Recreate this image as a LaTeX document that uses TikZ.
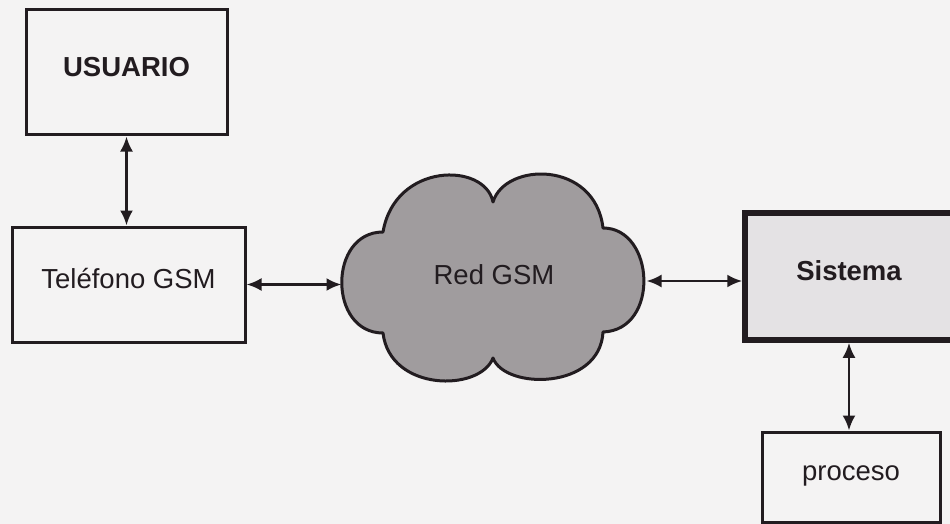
\documentclass[tikz,border=0pt]{standalone}
\usepackage{fontspec}
\setmainfont{Liberation Sans}
\usetikzlibrary{arrows.meta}
\definecolor{ink}{RGB}{34,28,32}
\definecolor{paper}{RGB}{244,243,243}
\definecolor{cloudgray}{RGB}{160,156,158}
\definecolor{sysfill}{RGB}{228,226,228}
\begin{document}
\begin{tikzpicture}[x=1pt,y=-1pt,
  box/.style={draw=ink, line width=3pt, rectangle, inner sep=0pt,
    text height=0.716em, text depth=0pt, text=ink,
    font=\fontsize{27.5}{33}\selectfont},
  link/.style={draw=ink, line width=2.6pt,
    {Latex[length=15pt,width=13pt]}-{Latex[length=15pt,width=13pt]}}]
\fill[paper] (0,0) rectangle (950,524);
\useasboundingbox (0,0) rectangle (950,524);

% cloud shape
\filldraw[fill=cloudgray, draw=ink, line width=3pt, line join=round]
  (493,202) .. controls (505,162) and (595,160) .. (603,228)
  .. controls (655,228) and (660,330) .. (603,332)
  .. controls (600,390) and (505,390) .. (493,358)
  .. controls (480,392) and (390,392) .. (383,333)
  .. controls (328,333) and (328,232) .. (383,232)
  .. controls (395,162) and (485,162) .. (493,202) -- cycle;

\node[box, draw=none, minimum width=302pt, minimum height=204pt] (cloud) at (494,281) {Red GSM};

\node[box, minimum width=201pt, minimum height=125pt] (usuario) at (126.5,72.5) {\bfseries USUARIO};
\node[box, minimum width=233pt, minimum height=115pt] (tel) at (128.5,284.5) {Teléfono GSM};
\node[box, line width=5.5pt, fill=sysfill, minimum width=208pt, minimum height=127pt] (sistema) at (849,276.5) {\bfseries Sistema};
\node[box, minimum width=178pt, minimum height=90pt] (proceso) at (851,477) {proceso};

\draw[link] (usuario.south) -- (usuario.south |- tel.north);
\draw[link] (tel.east) -- (tel.east -| cloud.west);
\draw[link] (cloud.east) -- (cloud.east -| sistema.west);
\draw[link] (sistema.south) -- (sistema.south |- proceso.north);
\end{tikzpicture}
\end{document}
